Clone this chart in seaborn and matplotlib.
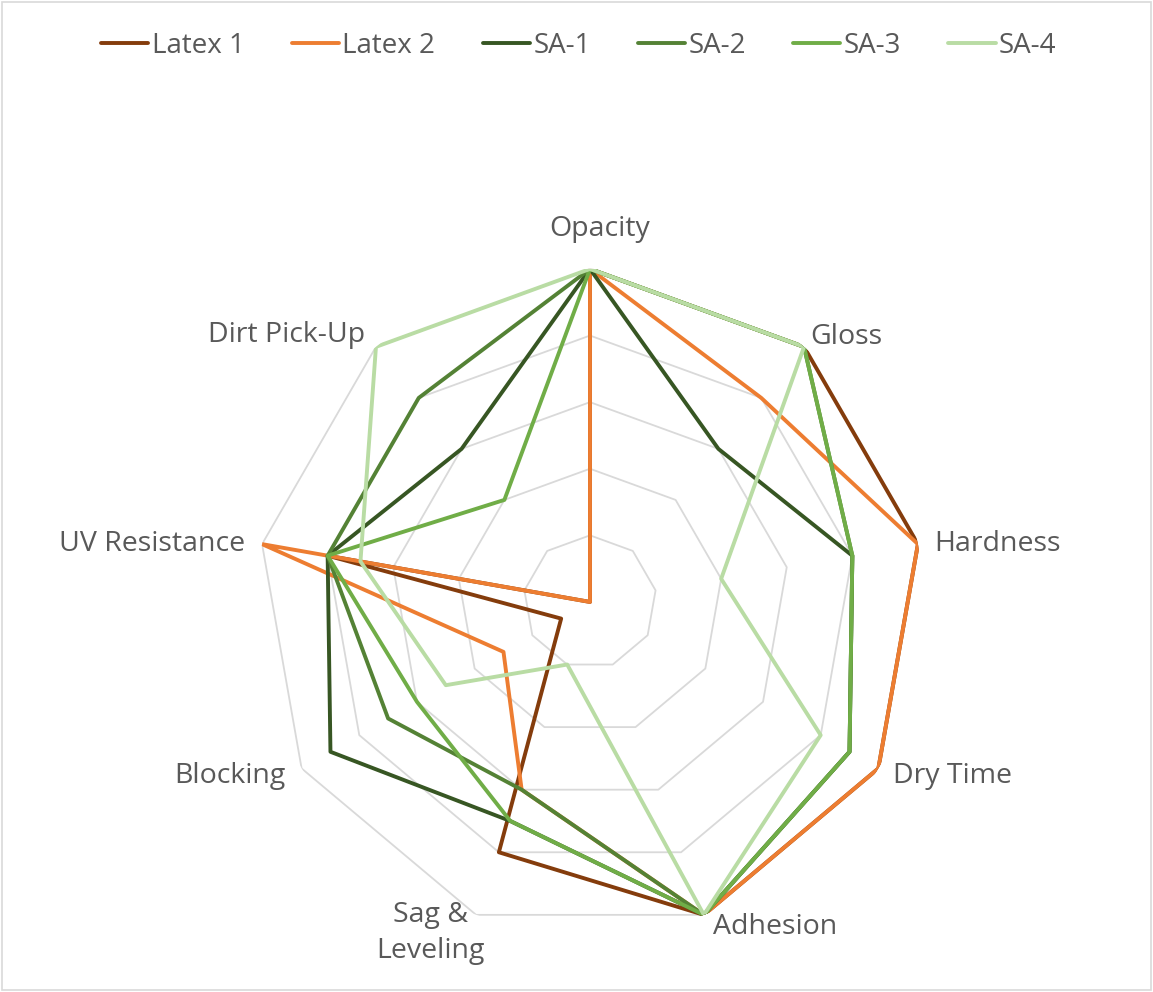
import numpy as np
import pandas as pd
import matplotlib
matplotlib.use("Agg")
import matplotlib.pyplot as plt
from matplotlib.lines import Line2D
from matplotlib.patches import Rectangle
import seaborn as sns

# Performance ratings (0-5) of each coating property
categories = ["Opacity", "Gloss", "Hardness", "Dry Time", "Adhesion",
              "Sag &\nLeveling", "Blocking", "UV Resistance", "Dirt Pick-Up"]
series_names = ["Latex 1", "Latex 2", "SA-1", "SA-2", "SA-3", "SA-4"]
latex_1 = [5, 5, 5, 5, 5, 4, 0.5, 4, 0]
latex_2 = [5, 4, 5, 5, 5, 3, 1.5, 5, 0]
sa_1 = [5, 3, 4, 4.5, 5, 3.5, 4.5, 4, 3]
sa_2 = [5, 5, 4, 4.5, 5, 3, 3.5, 4, 4]
sa_3 = [5, 5, 4, 4.5, 5, 3.5, 3, 4, 2]
sa_4 = [5, 5, 2, 4, 5, 1, 2.5, 3.5, 5]
grid_levels = [1, 2, 3, 4, 5]

colors = ["#843C0C", "#ED7D31", "#375623", "#548235", "#70AD47", "#B9DCA4"]
text_color = "#595959"
grid_color = "#D9D9D9"

sns.set_style("white")
plt.rcParams["font.family"] = ["Open Sans", "DejaVu Sans"]

n = len(categories)
angles = [2 * np.pi * i / n for i in range(n)]
angles_closed = angles + [2 * np.pi]

# long-form table, each polygon closed back to its first point
rows = []
for name, vals in zip(series_names, [latex_1, latex_2, sa_1, sa_2, sa_3, sa_4]):
    for a, v in zip(angles_closed, vals + [vals[0]]):
        rows.append({"angle": a, "value": v, "series": name})
df = pd.DataFrame(rows)

fig = plt.figure(figsize=(11.53, 9.92), dpi=100)
ax = fig.add_axes([0.2229, 0.0575, 0.5776, 0.6714], projection="polar")
ax.set_theta_zero_location("N")
ax.set_theta_direction(-1)

# polygonal grid rings
for lvl in grid_levels:
    ax.plot(angles_closed, [lvl] * len(angles_closed), color=grid_color,
            lw=1.3, zorder=1)

sns.lineplot(data=df, x="angle", y="value", hue="series",
             hue_order=series_names, palette=colors, sort=False,
             estimator=None, legend=False, lw=2.8, ax=ax, zorder=3)

ax.set_ylim(0, 5)
ax.set_xticks([])
ax.set_yticks([])
ax.grid(False)
ax.spines["polar"].set_visible(False)
ax.set_xlabel("")
ax.set_ylabel("")

# category labels around the outer ring
label_style = [
    ((10, 40), "center", "center"),
    ((6, 10), "left", "center"),
    ((16, 0), "left", "center"),
    ((15, -8), "left", "center"),
    ((9, -12), "left", "center"),
    ((-46, -18), "center", "center"),
    ((-16, -8), "right", "center"),
    ((-17, 0), "right", "center"),
    ((-11, 12), "right", "center"),
]
for a, lab, (off, ha, va) in zip(angles, categories, label_style):
    ax.annotate(lab, xy=(a, 5), xytext=off, textcoords="offset pixels",
                ha=ha, va=va, multialignment="center", fontsize=20.5,
                color=text_color, annotation_clip=False, linespacing=1.4)

handles = [Line2D([0], [0], color=c, lw=2.8) for c in colors]
fig.legend(handles, series_names, loc="center",
           bbox_to_anchor=(0.502, 1 - 46 / 992), ncol=6, frameon=False,
           fontsize=20, handlelength=1.7, handletextpad=0.12,
           columnspacing=1.7, labelcolor=text_color)

fig.patches.append(Rectangle((0.002, 0.002), 0.996, 0.996,
                             transform=fig.transFigure, fill=False,
                             edgecolor=grid_color, lw=1.2))

fig.savefig("out.png", dpi=100, facecolor="white")
